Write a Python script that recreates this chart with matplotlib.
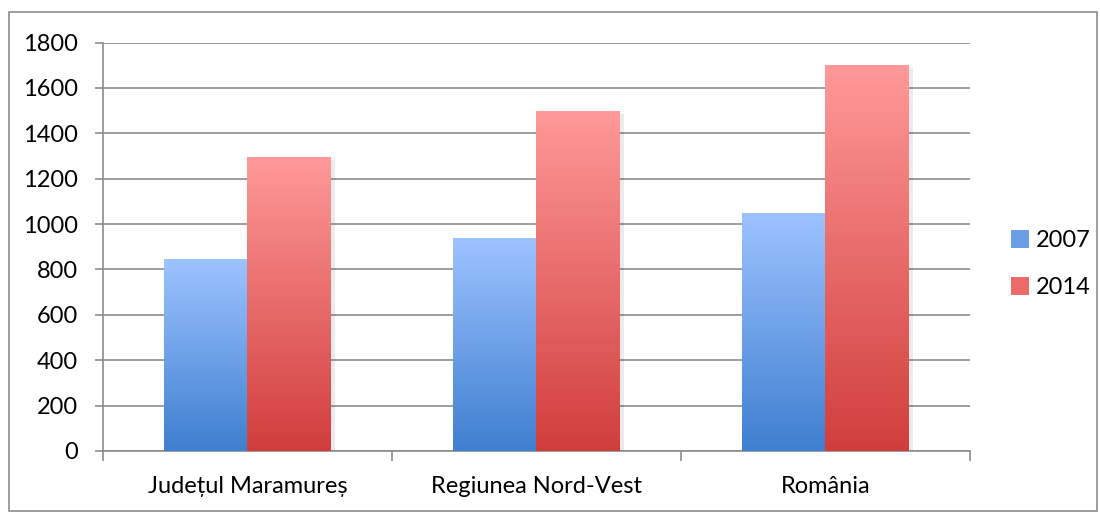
import matplotlib.pyplot as plt
from matplotlib.patches import Rectangle
from matplotlib.colors import LinearSegmentedColormap
import numpy as np

# data
categories = ['Județul Maramureș', 'Regiunea Nord-Vest', 'România']
years = ['2007', '2014']
values_2007 = [842, 935, 1045]
values_2014 = [1292, 1495, 1698]

plt.rcParams['font.family'] = ['Lato', 'DejaVu Sans']
plt.rcParams['font.size'] = 17

blue_cmap = LinearSegmentedColormap.from_list('b', ['#3f7fd0', '#9dc3ff'])
red_cmap = LinearSegmentedColormap.from_list('r', ['#d03e3c', '#ff9999'])

fig = plt.figure(figsize=(11, 5.13), dpi=100)
ax = fig.add_axes([0.0936, 0.121, 0.788, 0.796])

# outer frame
fig.patches.append(Rectangle((0.008, 0.003), 0.989, 0.973, transform=fig.transFigure,
                             fill=False, edgecolor='#8c8c8c', linewidth=1.2))

x = np.arange(len(categories))
w = 0.29
grad = np.linspace(0, 1, 256).reshape(-1, 1)


def grad_bar(xc, h, cmap):
    # soft shadow on the right
    ax.add_patch(Rectangle((xc - w / 2 + 0.012, 0), w, h - 8, facecolor='#000000',
                           alpha=0.08, edgecolor='none', zorder=2))
    ax.imshow(grad, cmap=cmap, origin='lower', aspect='auto',
              extent=(xc - w / 2, xc + w / 2, 0, h), zorder=3)


for i in range(len(categories)):
    grad_bar(x[i] - w / 2, values_2007[i], blue_cmap)
    grad_bar(x[i] + w / 2, values_2014[i], red_cmap)

ax.set_xlim(-0.5, 2.5)
ax.set_ylim(0, 1800)
ax.set_yticks(np.arange(0, 1801, 200))
ax.yaxis.grid(True, color='#8c8c8c', linewidth=1.2, zorder=0)
ax.set_axisbelow(True)

ax.set_xticks(x)
ax.set_xticklabels(categories)
ax.set_xticks([-0.5, 0.5, 1.5, 2.5], minor=True)
ax.tick_params(axis='x', which='major', length=0, pad=18)
ax.tick_params(axis='x', which='minor', length=7, color='#8c8c8c', width=1.2)
ax.tick_params(axis='y', length=6, color='#8c8c8c', width=1.2, pad=12)

for s in ['top', 'right']:
    ax.spines[s].set_visible(False)
for s in ['left', 'bottom']:
    ax.spines[s].set_color('#8c8c8c')
    ax.spines[s].set_linewidth(1.2)

handles = [Rectangle((0, 0), 1, 1, facecolor='#6a9fe8'),
           Rectangle((0, 0), 1, 1, facecolor='#ec6b69')]
fig.legend(handles, years, loc='center left', bbox_to_anchor=(0.9, 0.485),
           frameon=False, handlelength=0.75, handleheight=0.75, handletextpad=0.3,
           labelspacing=1.1, fontsize=17)

fig.savefig('out.png', dpi=100)
